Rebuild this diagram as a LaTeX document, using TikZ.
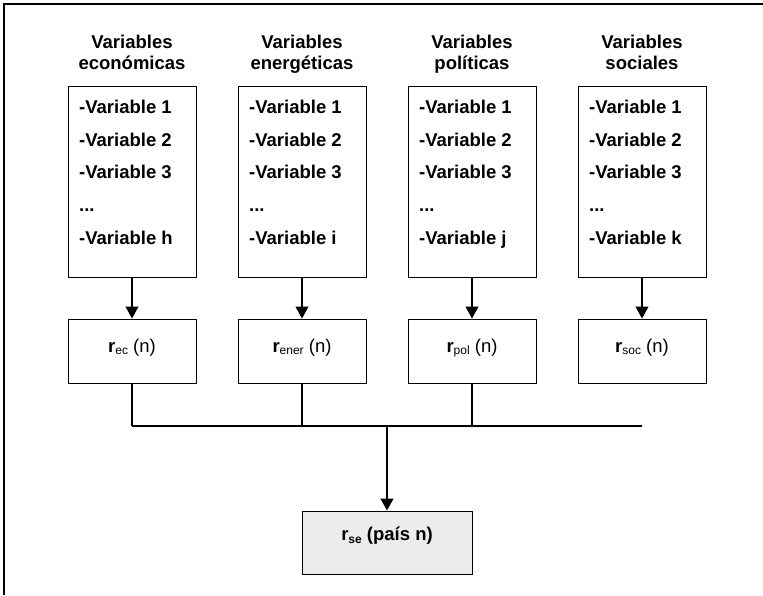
\documentclass[tikz,border=0pt]{standalone}
\usepackage{fontspec}
\setmainfont{Liberation Sans}
\usetikzlibrary{arrows.meta}
\definecolor{boxgray}{HTML}{ECECEC}
\begin{document}
\begin{tikzpicture}[x=1pt,y=-1pt,
  every node/.style={font=\fontsize{18.5}{21}\selectfont\bfseries, inner sep=0pt},
  vbox/.style={draw, line width=1pt, minimum width=128pt, minimum height=191pt},
  rbox/.style={draw, line width=1pt, minimum width=128pt, minimum height=64pt},
  finbox/.style={draw, fill=boxgray, line width=1pt, minimum width=170pt, minimum height=63pt},
  conn/.style={line width=1.2pt},
  arr/.style={conn, -{Triangle[length=12pt,width=13pt]}}]
\useasboundingbox (0,0) rectangle (763,595);
\draw[line width=1.5pt] (4,595) -- (4,4) -- (763,4);

\foreach \c/\x/\hb/\l/\s in {1/132/económicas/h/ec, 2/302/energéticas/i/ener, 3/472/políticas/j/pol, 4/642/sociales/k/soc} {
  \node[vbox] (v\c) at (\x,181.5) {};
  \node[anchor=base] (ha\c) at (\x,48) {Variables};
  \node[anchor=base] (hb\c) at (\x,69) {\hb};
  \node[anchor=base west] (la\c) at (\x-53,113) {-Variable 1};
  \node[anchor=base west] (lb\c) at (\x-53,146) {-Variable 2};
  \node[anchor=base west] (lc\c) at (\x-53,178.5) {-Variable 3};
  \node[anchor=base west] (ld\c) at (\x-53,211) {...};
  \node[anchor=base west] (le\c) at (\x-53,244) {-Variable \l};
  \node[rbox] (r\c) at (\x,351) {};
  \node[anchor=base] (rt\c) at (\x,352) {r{\fontsize{12}{14}\selectfont\mdseries\raisebox{-2pt}{\s}} {\mdseries (n)}};
  \draw[arr] (v\c) -- (r\c);
}

\coordinate (j1) at (132,426);
\coordinate (j2) at (302,426);
\coordinate (j3) at (472,426);
\coordinate (j4) at (642,426);
\coordinate (jm) at (387,426);
\draw[conn] (r1) -- (j1);
\draw[conn] (r2) -- (j2);
\draw[conn] (r3) -- (j3);
\draw[conn] (j1) -- (j4);

\node[finbox] (fin) at (387,542.5) {};
\node[anchor=base] (fint) at (387,540) {r{\fontsize{12}{14}\selectfont\raisebox{-3pt}{se}} (país n)};
\draw[arr] (jm) -- (fin);
\end{tikzpicture}
\end{document}
